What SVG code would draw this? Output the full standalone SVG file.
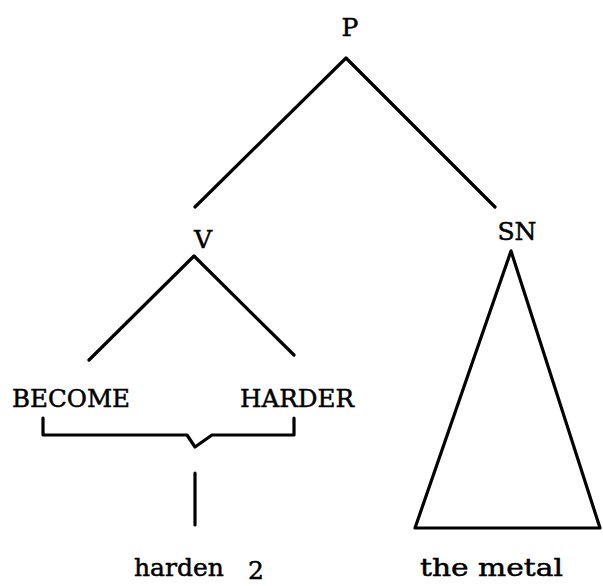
<svg xmlns="http://www.w3.org/2000/svg" width="603" height="586" viewBox="0 0 603 586">
<style>
text{font-family:"DejaVu Serif","Liberation Serif",serif;font-size:25px;fill:#000;stroke:#000;stroke-width:0.5}
.ln{fill:none;stroke:#000;stroke-width:3.2;stroke-linecap:round;stroke-linejoin:round}
</style>
<rect width="603" height="586" fill="#fff"/>
<g id="connectors">
<polyline class="ln" points="195,207 346,58 495,207"/>
<polyline class="ln" points="89,360 194,256 294,355"/>
<polygon class="ln" points="511,251 415,528 600,528"/>
<polyline class="ln" points="43,418 43,435 187,435 195,447 212,435 294,435 294,418"/>
<line class="ln" x1="195" y1="473" x2="195" y2="525"/>
</g>
<g id="node-P"><text x="350" y="36" text-anchor="middle">P</text></g>
<g id="node-V"><text x="203" y="248" text-anchor="middle">V</text></g>
<g id="node-SN"><text x="517" y="240" text-anchor="middle">SN</text></g>
<g id="node-BECOME"><text x="12" y="407" textLength="118" lengthAdjust="spacingAndGlyphs">BECOME</text></g>
<g id="node-HARDER"><text x="240" y="407" textLength="114" lengthAdjust="spacingAndGlyphs">HARDER</text></g>
<g id="node-harden"><text x="134" y="576">harden</text><text x="248" y="579">2</text></g>
<g id="node-the-metal"><text x="420" y="576" textLength="143" lengthAdjust="spacingAndGlyphs">the metal</text></g>
</svg>
